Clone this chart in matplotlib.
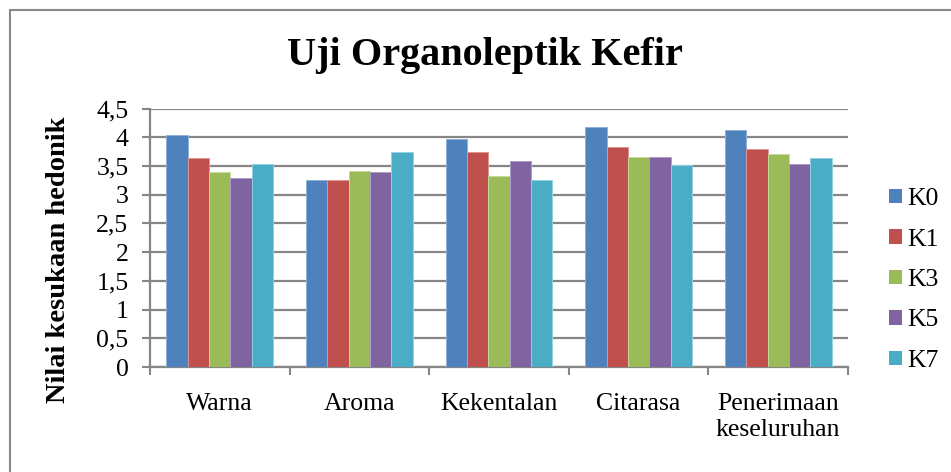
import matplotlib
matplotlib.use("Agg")
import matplotlib.pyplot as plt
import matplotlib.patches as mpatches
import numpy as np

categories = ["Warna", "Aroma", "Kekentalan", "Citarasa", "Penerimaan\nkeseluruhan"]
series_names = ["K0", "K1", "K3", "K5", "K7"]
K0 = [4.04, 3.26, 3.97, 4.17, 4.13]
K1 = [3.64, 3.26, 3.75, 3.83, 3.79]
K3 = [3.39, 3.42, 3.33, 3.66, 3.71]
K5 = [3.29, 3.39, 3.58, 3.66, 3.54]
K7 = [3.54, 3.75, 3.26, 3.51, 3.64]
series_values = [K0, K1, K3, K5, K7]
colors = ["#4F81BD", "#C0504D", "#9BBB59", "#8064A2", "#4BACC6"]
edge_colors = ["#8FB0DA", "#DC9593", "#C5D99A", "#B09CC8", "#92D0E0"]
yticks = [0, 0.5, 1, 1.5, 2, 2.5, 3, 3.5, 4, 4.5]
ytick_labels = ["0", "0,5", "1", "1,5", "2", "2,5", "3", "3,5", "4", "4,5"]
title = "Uji Organoleptik Kefir"
ylabel = "Nilai kesukaan hedonik"

serif = ["Liberation Serif", "DejaVu Serif"]
plt.rcParams["font.family"] = serif

W, H = 951, 472
fig = plt.figure(figsize=(W / 100, H / 100), dpi=100)
fig.patch.set_facecolor("white")

# outer chart border
border = mpatches.Rectangle((10 / W, -0.2), 1.2, 1 - 10 / H + 0.2,
                            transform=fig.transFigure, fill=False,
                            edgecolor="#888888", linewidth=1.5, clip_on=False)
fig.patches.append(border)

left, right, top, bottom = 150, 848, 108.5, 367
ax = fig.add_axes([left / W, 1 - bottom / H, (right - left) / W, (bottom - top) / H])

x = np.arange(len(categories))
bw = 0.153
for i, (name, vals) in enumerate(zip(series_names, series_values)):
    ax.bar(x + (i - 2) * bw, vals, width=bw, color=colors[i],
           edgecolor=edge_colors[i], linewidth=0.7, label=name, zorder=3)

ax.set_xlim(-0.5, len(categories) - 0.5)
ax.set_ylim(0, 4.5)
ax.set_yticks(yticks)
ax.set_yticklabels(ytick_labels, fontsize=18.5)
ax.yaxis.grid(True, color="#868686", linewidth=1.6, zorder=0)
ax.set_axisbelow(True)

ax.set_xticks(x)
ax.set_xticklabels(categories, fontsize=18.5, linespacing=1.2)
ax.set_xticks(np.arange(-0.5, len(categories), 1), minor=True)
ax.tick_params(axis="x", which="major", length=0, pad=19)
ax.tick_params(axis="x", which="minor", length=5.5, width=1.5, color="#868686", direction="out")
ax.tick_params(axis="y", which="major", length=5.5, width=1.5, color="#868686", direction="out", pad=10)

for s in ["top", "right"]:
    ax.spines[s].set_visible(False)
for s in ["left", "bottom"]:
    ax.spines[s].set_color("#868686")
    ax.spines[s].set_linewidth(1.6)

fig.text(485 / W, 1 - 55 / H, title, ha="center", va="center",
         fontsize=29, fontweight="bold")
fig.text(59 / W, 1 - 260 / H, ylabel, ha="center", va="center",
         rotation=90, fontsize=20.5, fontweight="bold")

handles = [mpatches.Patch(facecolor=c, edgecolor="none") for c in colors]
fig.legend(handles, series_names, loc="center left",
           bbox_to_anchor=(889 / W, 1 - 280 / H), frameon=False,
           fontsize=18.5, handlelength=0.5, handleheight=0.5,
           handletextpad=0.2, labelspacing=0.72, borderpad=0, borderaxespad=0)

fig.savefig("out.png", dpi=100, facecolor="white")
